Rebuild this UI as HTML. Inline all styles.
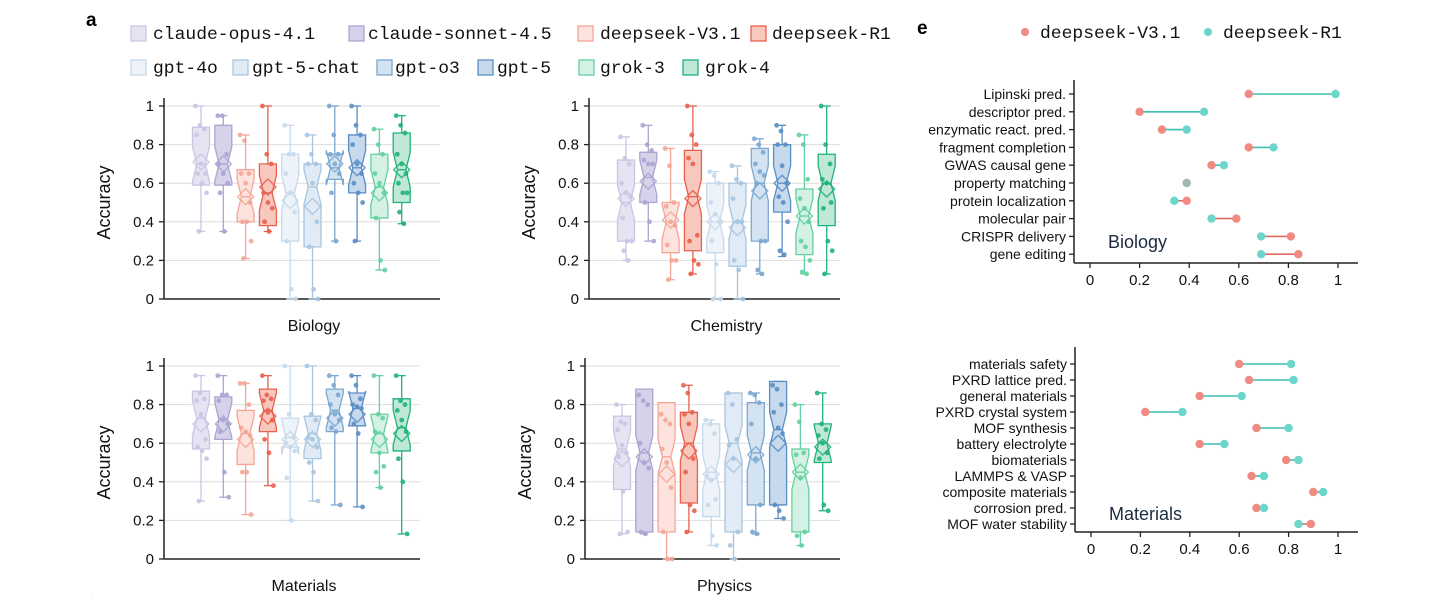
<!DOCTYPE html>
<html><head><meta charset="utf-8">
<style>
body{margin:0;background:#fff;width:1456px;height:598px;overflow:hidden;font-family:"Liberation Sans",sans-serif}
svg text{font-family:"Liberation Sans",sans-serif}
svg text.mono{font-family:"Liberation Mono",monospace}
</style></head><body>
<svg id="c" width="1456" height="598" xmlns="http://www.w3.org/2000/svg">
<text x="86" y="26" font-size="19" font-weight="bold">a</text>
<text x="917" y="34" font-size="19" font-weight="bold">e</text>
<text x="90" y="600" font-size="14" font-weight="bold">.</text>
</svg>
<script>
const models=["claude-opus-4.1","claude-sonnet-4.5","deepseek-V3.1","deepseek-R1","gpt-4o","gpt-5-chat","gpt-o3","gpt-5","grok-3","grok-4"];
const fills=["#e6e3f2","#d6d2ea","#fde3dd","#f8c8be","#edf3f9","#e0ebf5","#d4e3f1","#c6d9ed","#d5f1e5","#bfe9d6"];
const strokes=["#c9c5e3","#aaa4d1","#f4a596","#e8614d","#c5d9eb","#a7c5e1","#7ba7d1","#5a8ec4","#62d0a0","#1fb27a"];
const panels=["Biology","Chemistry","Materials","Physics"];
// [whiskerLow, q1, median, q3, whiskerHigh, mean]
const stats={
Biology:[[.35,.59,.7,.89,1,.71],[.35,.59,.7,.9,.95,.7],[.21,.4,.53,.67,.85,.53],[.35,.38,.55,.7,1,.58],[0,.3,.55,.75,.9,.51],[0,.27,.58,.7,.85,.48],[.3,.62,.68,.75,1,.7],[.3,.55,.68,.85,1,.68],[.15,.42,.58,.75,.88,.55],[.39,.5,.67,.86,.95,.67]],
Chemistry:[[.2,.3,.5,.72,.84,.52],[.3,.5,.63,.76,.9,.61],[.1,.24,.4,.5,.78,.41],[.13,.25,.53,.77,1,.52],[0,.24,.4,.6,.66,.4],[0,.17,.4,.6,.69,.37],[.13,.3,.6,.78,.83,.56],[.22,.45,.6,.8,.9,.6],[.13,.23,.43,.57,.85,.43],[.13,.38,.6,.75,1,.57]],
Materials:[[.3,.57,.73,.87,.95,.7],[.32,.62,.72,.84,.95,.7],[.23,.49,.65,.77,.91,.62],[.38,.66,.77,.88,.95,.74],[.2,.58,.63,.73,1,.62],[.3,.52,.65,.74,1,.62],[.28,.66,.77,.88,.95,.73],[.27,.69,.78,.86,.95,.75],[.37,.55,.65,.75,.95,.62],[.13,.56,.68,.83,.95,.65]],
Physics:[[.13,.36,.57,.74,.8,.52],[.13,.14,.55,.88,.88,.53],[0,.14,.53,.81,.81,.44],[.14,.29,.6,.76,.9,.56],[.07,.22,.45,.7,.72,.44],[0,.14,.6,.86,.86,.49],[.13,.28,.55,.81,.86,.54],[.21,.28,.67,.92,.92,.6],[.07,.14,.45,.57,.8,.45],[.25,.5,.6,.7,.86,.58]]};
const points={
Biology:[[1,.9,.88,.85,.7,.65,.65,.6,.55,.35],[.95,.95,.75,.7,.65,.6,.55,.35],[.85,.82,.65,.65,.6,.5,.4,.4,.3,.21],[1,.75,.7,.55,.5,.47,.4,.35],[.9,.75,.75,.65,.55,.45,.3,.05,0],[.85,.75,.7,.7,.6,.4,.27,.05,0],[1,.85,.75,.75,.7,.65,.55,.3],[1,.9,.85,.8,.7,.65,.6,.55,.5,.3],[.88,.8,.75,.65,.6,.55,.42,.2,.15],[.95,.9,.86,.75,.7,.65,.6,.55,.55,.45,.39]],
Chemistry:[[.84,.73,.7,.6,.55,.53,.42,.3,.3,.25,.2],[.9,.8,.77,.72,.7,.7,.5,.4,.3],[.78,.69,.5,.48,.4,.38,.28,.2,.2,.1],[1,.85,.8,.73,.7,.33,.3,.2,.18,.13],[.66,.64,.6,.5,.44,.4,.3,.18,0,0],[.69,.62,.6,.52,.4,.4,.2,.15,0],[.83,.8,.76,.7,.66,.64,.6,.3,.3,.15,.13],[.9,.87,.8,.8,.69,.6,.53,.5,.4,.25,.23],[.85,.8,.62,.52,.47,.4,.3,.27,.2,.14,.13],[1,.8,.7,.62,.6,.5,.47,.3,.25,.13]],
Materials:[[.95,.86,.83,.82,.75,.62,.58,.56,.52,.3],[.95,.85,.85,.82,.72,.7,.66,.45,.32],[.91,.91,.8,.68,.66,.64,.45,.45,.23],[.95,.85,.83,.82,.76,.72,.62,.55,.38],[1,.75,.63,.6,.58,.56,.42,.2],[1,.75,.72,.63,.62,.58,.5,.45,.3],[.95,.9,.85,.8,.75,.72,.68,.66,.28],[.95,.9,.83,.8,.79,.78,.7,.65,.27],[.95,.75,.73,.66,.55,.48,.45,.37],[.95,.82,.8,.77,.72,.66,.52,.4,.13]],
Physics:[[.8,.71,.7,.67,.59,.55,.53,.35,.14,.13],[.85,.82,.8,.6,.5,.47,.14,.13],[.75,.72,.7,.57,.5,.37,.14,0,0],[.9,.86,.76,.75,.7,.52,.45,.28,.25,.14],[.72,.7,.65,.43,.41,.31,.28,.12,.07],[.86,.8,.62,.59,.52,.14,.07,0],[.86,.85,.81,.7,.52,.28,.14,.13],[.9,.88,.8,.76,.68,.65,.28,.25,.21],[.8,.71,.55,.54,.42,.14,.12,.07],[.86,.7,.67,.64,.6,.55,.52,.28,.25]]};
const yTicks=[0,0.2,0.4,0.6,0.8,1];
const yTickLabels=["0","0.2","0.4","0.6","0.8","1"];
const bioTasks=["Lipinski pred.","descriptor pred.","enzymatic react. pred.","fragment completion","GWAS causal gene","property matching","protein localization","molecular pair","CRISPR delivery","gene editing"];
const bioV3=[.64,.2,.29,.64,.49,.39,.39,.59,.81,.84];
const bioR1=[.99,.46,.39,.74,.54,.39,.34,.49,.69,.69];
const matTasks=["materials safety","PXRD lattice pred.","general materials","PXRD crystal system","MOF synthesis","battery electrolyte","biomaterials","LAMMPS & VASP","composite materials","corrosion pred.","MOF water stability"];
const matV3=[.6,.64,.44,.22,.67,.44,.79,.65,.9,.67,.89];
const matR1=[.81,.82,.61,.37,.8,.54,.84,.7,.94,.7,.84];
const xTicks=[0,0.2,0.4,0.6,0.8,1];
const xTickLabels=["0","0.2","0.4","0.6","0.8","1"];

const svg=document.getElementById('c');
const NS="http://www.w3.org/2000/svg";
function mk(tag,attrs,parent){const e=document.createElementNS(NS,tag);for(const k in attrs)e.setAttribute(k,attrs[k]);(parent||svg).appendChild(e);return e;}
function txt(x,y,s,size,anchor,parent,cls){const t=mk('text',{x:x,y:y,'font-size':size,'text-anchor':anchor||'start',fill:'#111'},parent);if(cls)t.setAttribute('class',cls);t.textContent=s;return t;}
function monoTxt(x,y,s,g){const t=txt(x,y,s,17.5,'start',g,'mono');t.setAttribute('textLength',(s.length*10.8).toFixed(1));t.setAttribute('lengthAdjust','spacingAndGlyphs');return t;}

// legend
const legPos=[[131,26,153],[349,26,368],[578,26,600],[751,26,772],[131,60,153],[233,60,252],[377,60,395],[478,60,497],[579,60,600],[683,60,705]];
models.forEach((m,i)=>{
  const g=mk('g',{});
  
  
  const [x,y,tx]=legPos[i];
  mk('rect',{x:x,y:y,width:15,height:15,fill:fills[i],stroke:strokes[i],'stroke-width':1.3},g);
  monoTxt(tx,y+13,m,g);
});

// box panels
const layout={Biology:{ax:164,y1:106,y0:299,right:440},Chemistry:{ax:589,y1:106,y0:299,right:840},Materials:{ax:164,y1:366,y0:559,right:420},Physics:{ax:585,y1:366,y0:559,right:840}};
panels.forEach(p=>{
  const L=layout[p];
  const g=mk('g',{});
  
  
  const Y=v=>L.y0-(L.y0-L.y1)*v;
  const X=i=>L.ax+37+i*22.3;
  yTicks.forEach((t,k)=>{
    if(t>0)mk('line',{x1:L.ax,x2:L.right,y1:Y(t),y2:Y(t),stroke:'#ddd','stroke-width':1},g);
    mk('line',{x1:L.ax-5,x2:L.ax,y1:Y(t),y2:Y(t),stroke:'#222','stroke-width':1.3},g);
    txt(L.ax-10,Y(t)+5,yTickLabels[k],15,'end',g);
  });
  mk('line',{x1:L.ax,x2:L.ax,y1:L.y1-8,y2:L.y0,stroke:'#222','stroke-width':1.5},g);
  mk('line',{x1:L.ax,x2:L.right,y1:L.y0,y2:L.y0,stroke:'#222','stroke-width':1.5},g);
  const yl=txt(0,0,'Accuracy',18,'middle',g);
  yl.setAttribute('transform',`translate(${L.ax-54},${(L.y0+L.y1)/2}) rotate(-90)`);
  
  
  const xl=txt((L.ax+L.right)/2+12,L.y0+32,p,16,'middle',g);
  
  
  stats[p].forEach((s,i)=>{
    const [lo,q1,md,q3,hi,mn]=s;const cx=X(i);const w=8.5,n=0.09;const c=strokes[i];
    const bg=mk('g',{},g);
    
    
    mk('line',{x1:cx,x2:cx,y1:Y(lo),y2:Y(q1),stroke:c,'stroke-width':1.3},bg);
    mk('line',{x1:cx,x2:cx,y1:Y(q3),y2:Y(hi),stroke:c,'stroke-width':1.3},bg);
    mk('line',{x1:cx-4,x2:cx+4,y1:Y(lo),y2:Y(lo),stroke:c,'stroke-width':1.3},bg);
    mk('line',{x1:cx-4,x2:cx+4,y1:Y(hi),y2:Y(hi),stroke:c,'stroke-width':1.3},bg);
    const pts=[[cx-w,Y(q1)],[cx-w,Y(md-n)],[cx-w/2,Y(md)],[cx-w,Y(md+n)],[cx-w,Y(q3)],[cx+w,Y(q3)],[cx+w,Y(md+n)],[cx+w/2,Y(md)],[cx+w,Y(md-n)],[cx+w,Y(q1)]];
    mk('polygon',{points:pts.map(q=>q.join(',')).join(' '),fill:fills[i],stroke:c,'stroke-width':1.3},bg);
    mk('line',{x1:cx-w/2,x2:cx+w/2,y1:Y(md),y2:Y(md),stroke:c,'stroke-width':1.3},bg);
    points[p][i].forEach((v,k)=>{
      const d=mk('circle',{cx:cx+((k*37)%11-5)*1.1,cy:Y(v),r:2.4,fill:c,opacity:0.9},bg);
      
      
    });
    const my=Y(mn);
    mk('polygon',{points:`${cx},${my-8} ${cx+8},${my} ${cx},${my+8} ${cx-8},${my}`,fill:'none',stroke:c,'stroke-width':1.4,opacity:0.9},bg);
  });
});

// dumbbell legend
const dl=mk('g',{});


mk('circle',{cx:1025,cy:32,r:4,fill:'#f08a82'},dl);monoTxt(1040,38,'deepseek-V3.1',dl);
mk('circle',{cx:1208,cy:32,r:4,fill:'#6cd6cb'},dl);monoTxt(1223,38,'deepseek-R1',dl);

function dumbbell(name,tasks,v3,r1,x0,x1,rowTop,rowStep,axisY,topY,label,labY){
  const g=mk('g',{});
  
  
  const X=v=>x0+(x1-x0)*v;
  mk('line',{x1:x0-16,x2:x0-16,y1:topY,y2:axisY,stroke:'#222','stroke-width':1.5},g);
  mk('line',{x1:x0-16,x2:1358,y1:axisY,y2:axisY,stroke:'#222','stroke-width':1.5},g);
  xTicks.forEach((t,k)=>{mk('line',{x1:X(t),x2:X(t),y1:axisY,y2:axisY+5,stroke:'#222','stroke-width':1.3},g);txt(X(t),axisY+22,xTickLabels[k],15,'middle',g);});
  tasks.forEach((t,i)=>{
    const y=rowTop+i*rowStep;
    mk('line',{x1:x0-21,x2:x0-16,y1:y,y2:y,stroke:'#222','stroke-width':1.3},g);
    txt(x0-24,y+5,t,14,'end',g);
    const col=r1[i]>=v3[i]?'#3bbdb0':'#e36a63';
    const r=mk('g',{},g);
    
    
    mk('line',{x1:X(v3[i]),x2:X(r1[i]),y1:y,y2:y,stroke:col,'stroke-width':1.6},r);
    mk('circle',{cx:X(v3[i]),cy:y,r:4.2,fill:'#f08a82'},r);
    mk('circle',{cx:X(r1[i]),cy:y,r:4.2,fill:'#6cd6cb',opacity:v3[i]==r1[i]?0.6:1},r);
  });
  txt(x0+18,labY,label,18,'start',g).setAttribute('fill','#1c2b40');
}
dumbbell('biology',bioTasks,bioV3,bioR1,1090,1338,94,17.8,263,80,'Biology',248);
dumbbell('materials',matTasks,matV3,matR1,1091,1338,364,16,532,347,'Materials',520);
</script>
</body></html>
